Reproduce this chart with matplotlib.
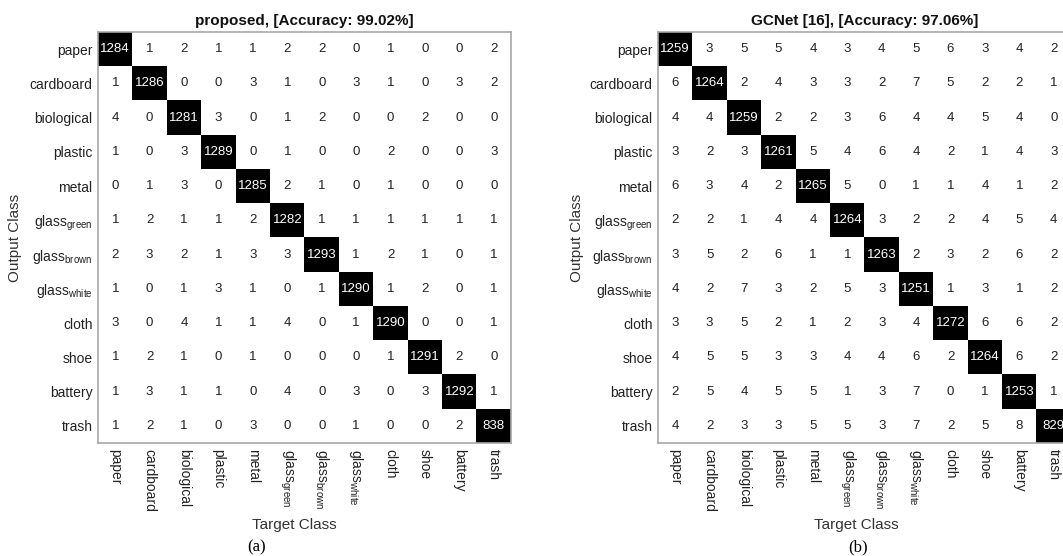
import numpy as np
import matplotlib
matplotlib.use("Agg")
import matplotlib.pyplot as plt
from matplotlib.colors import ListedColormap

plt.rcParams['font.family'] = ['Liberation Sans', 'DejaVu Sans']
plt.rcParams['mathtext.fontset'] = 'custom'
plt.rcParams['mathtext.rm'] = 'Liberation Sans'
plt.rcParams['mathtext.it'] = 'Liberation Sans'
plt.rcParams['mathtext.bf'] = 'Liberation Sans:bold'

classes = ['paper', 'cardboard', 'biological', 'plastic', 'metal',
           r'glass$_{\mathrm{green}}$', r'glass$_{\mathrm{brown}}$', r'glass$_{\mathrm{white}}$',
           'cloth', 'shoe', 'battery', 'trash']

proposed = [
    [1284, 1, 2, 1, 1, 2, 2, 0, 1, 0, 0, 2],
    [1, 1286, 0, 0, 3, 1, 0, 3, 1, 0, 3, 2],
    [4, 0, 1281, 3, 0, 1, 2, 0, 0, 2, 0, 0],
    [1, 0, 3, 1289, 0, 1, 0, 0, 2, 0, 0, 3],
    [0, 1, 3, 0, 1285, 2, 1, 0, 1, 0, 0, 0],
    [1, 2, 1, 1, 2, 1282, 1, 1, 1, 1, 1, 1],
    [2, 3, 2, 1, 3, 3, 1293, 1, 2, 1, 0, 1],
    [1, 0, 1, 3, 1, 0, 1, 1290, 1, 2, 0, 1],
    [3, 0, 4, 1, 1, 4, 0, 1, 1290, 0, 0, 1],
    [1, 2, 1, 0, 1, 0, 0, 0, 1, 1291, 2, 0],
    [1, 3, 1, 1, 0, 4, 0, 3, 0, 3, 1292, 1],
    [1, 2, 1, 0, 3, 0, 0, 1, 0, 0, 2, 838],
]

gcnet = [
    [1259, 3, 5, 5, 4, 3, 4, 5, 6, 3, 4, 2],
    [6, 1264, 2, 4, 3, 3, 2, 7, 5, 2, 2, 1],
    [4, 4, 1259, 2, 2, 3, 6, 4, 4, 5, 4, 0],
    [3, 2, 3, 1261, 5, 4, 6, 4, 2, 1, 4, 3],
    [6, 3, 4, 2, 1265, 5, 0, 1, 1, 4, 1, 2],
    [2, 2, 1, 4, 4, 1264, 3, 2, 2, 4, 5, 4],
    [3, 5, 2, 6, 1, 1, 1263, 2, 3, 2, 6, 2],
    [4, 2, 7, 3, 2, 5, 3, 1251, 1, 3, 1, 2],
    [3, 3, 5, 2, 1, 2, 3, 4, 1272, 6, 6, 2],
    [4, 5, 5, 3, 3, 4, 4, 6, 2, 1264, 6, 2],
    [2, 5, 4, 5, 5, 1, 3, 7, 0, 1, 1253, 1],
    [4, 2, 3, 3, 5, 5, 3, 7, 2, 5, 8, 829],
]

titles = ['proposed, [Accuracy: 99.02%]', 'GCNet [16], [Accuracy: 97.06%]']
panel_labels = ['(a)', '(b)']

W, H = 1063, 556
fig = plt.figure(figsize=(W / 100, H / 100), dpi=100)

cmap = ListedColormap(['white', 'black'])
n = len(classes)

def draw(ax, mat, title):
    mat = np.array(mat)
    diag = np.eye(n)
    ax.imshow(diag, cmap=cmap, vmin=0, vmax=1, aspect='auto', interpolation='nearest')
    for i in range(n):
        for j in range(n):
            ax.text(j, i, str(mat[i, j]), ha='center', va='center', fontsize=9.5,
                    color='white' if i == j else '#222222')
    ax.set_xticks(range(n))
    ax.set_yticks(range(n))
    ax.set_xticklabels(classes, rotation=270, ha='center', va='top', fontsize=10, color='#222222')
    ax.set_yticklabels(classes, fontsize=10, color='#222222')
    ax.tick_params(length=0, pad=4)
    for s in ax.spines.values():
        s.set_color('#a8a8a8')
        s.set_linewidth(1.2)
    ax.set_title(title, fontsize=11, fontweight='bold', pad=5, color='#111111')

left_px = [98, 658]
aw, top, bot = 413, 32, 443
for k, (mat, title) in enumerate(zip([proposed, gcnet], titles)):
    ax = fig.add_axes([left_px[k] / W, 1 - bot / H, aw / W, (bot - top) / H])
    draw(ax, mat, title)

fig.text(294 / W, 1 - 525 / H, 'Target Class', ha='center', va='center', fontsize=11, color='#333333')
fig.text(856 / W, 1 - 525 / H, 'Target Class', ha='center', va='center', fontsize=11, color='#333333')
fig.text(15 / W, 1 - 238 / H, 'Output Class', ha='center', va='center', rotation=90, fontsize=11, color='#333333')
fig.text(577 / W, 1 - 238 / H, 'Output Class', ha='center', va='center', rotation=90, fontsize=11, color='#333333')
fig.text(257 / W, 1 - 547 / H, panel_labels[0], ha='center', va='center', fontsize=12,
         family=['Liberation Serif', 'DejaVu Serif'])
fig.text(858 / W, 1 - 547 / H, panel_labels[1], ha='center', va='center', fontsize=12,
         family=['Liberation Serif', 'DejaVu Serif'])

fig.savefig('out.png', dpi=100)
